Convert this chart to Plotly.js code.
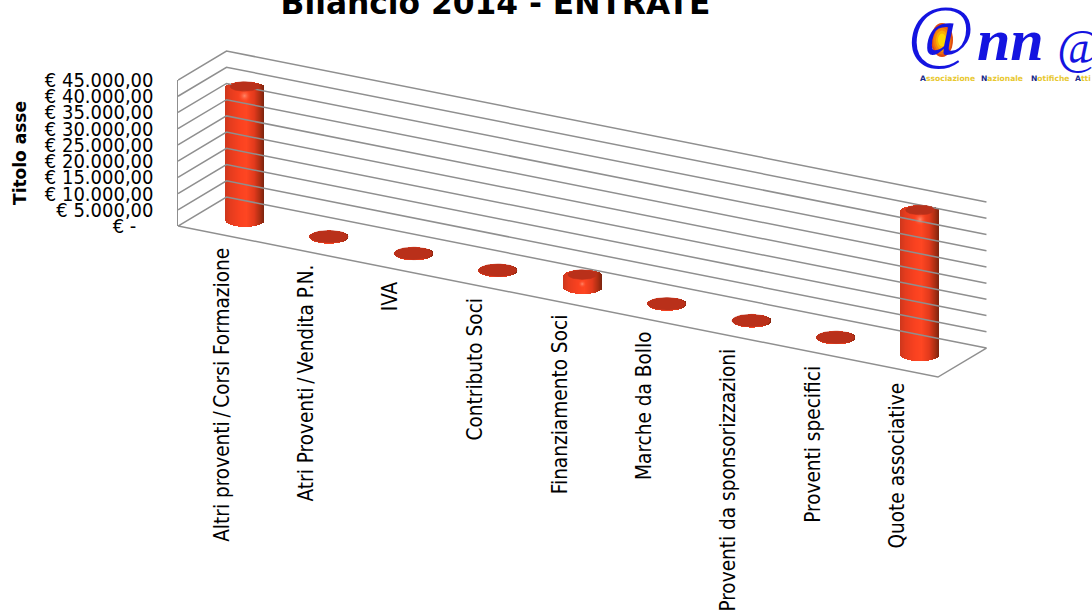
<!DOCTYPE html>
<html>
<head>
<meta charset="utf-8">
<script src="https://cdn.plot.ly/plotly-3.0.1.min.js"></script>
<style>html,body{margin:0;padding:0;background:#fff;overflow:hidden}#c{width:1092px;height:612px}</style>
</head>
<body>
<div id="c"></div>
<script>
// ---- data ----
const categories = ["Altri proventi/Corsi Formazione","Atri Proventi/Vendita P.N.","IVA","Contributo Soci","Finanziamento Soci","Marche da Bollo","Proventi da sponsorizzazioni","Proventi specifici","Quote associative"];
const values = [40700, 0, 0, 0, 3400, 0, 0, 0, 44000];
const tickValues = [0,5000,10000,15000,20000,25000,30000,35000,40000,45000];
const tickLabels = ["€ -\u00a0\u00a0\u00a0","€ 5.000,00","€ 10.000,00","€ 15.000,00","€ 20.000,00","€ 25.000,00","€ 30.000,00","€ 35.000,00","€ 40.000,00","€ 45.000,00"];
const chartTitle = "Bilancio 2014 - ENTRATE";
const axisTitle = "Titolo asse";

// ---- oblique projection of the Excel 3-D box, in pixels ----
const pxLeft=178, pxRight=1000, pxTop=30, pxBottom=400, pxZero=226;
const pxPerCat=84.44, slopePerCat=16.78, depthX=48.5, depthY=29, pxPerEuro=0.003244;
const eur = 1/pxPerEuro, catPx = 1/pxPerCat;
const X = (c,d)=> c + d*depthX*catPx;
const Y = (c,d,v)=> v - (slopePerCat*c - depthY*d)*eur;
const dBar=0.5, rx=19.5, ry=7, capRy=6.2;

// cylinder shading stops across the bar (-1 left edge, 1 right edge)
const shade=[[-1,[205,54,28]],[-0.7,[230,60,30]],[-0.2,[250,66,32]],[0.1,[254,70,34]],[0.5,[226,58,28]],[0.8,[170,46,18]],[1,[122,36,14]]];
function shadeAt(t){for(let k=1;k<shade.length;k++){if(t<=shade[k][0]){const a=shade[k-1],b=shade[k],f=(t-a[0])/(b[0]-a[0]);
  return 'rgb('+a[1].map((u,j)=>Math.round(u+(b[1][j]-u)*f)).join(',')+')';}}return 'rgb(122,36,14)';}

// bars as vertical strips through the library's bar trace
const bx=[],by=[],bb=[],bw=[],bc=[];
categories.forEach((_,i)=>{
  const c=i+0.5, cx=X(c,dBar), y0=Y(c,dBar,0);
  for(let s=-19;s<=19;s++){
    const t=s/19.5, e=Math.sqrt(1-t*t);
    const lo=y0-ry*e*eur, hi=y0+values[i]+capRy*e*eur;
    bx.push(cx+(s<19?s+0.5:s)*catPx); bb.push(lo); by.push(hi-lo); bw.push((s<19?2:1)*catPx); bc.push(shadeAt(t));
  }
});
// caps: full discs for empty categories, inset tops for real columns
const capX=[],capY=[];
categories.forEach((_,i)=>{
  const c=i+0.5,cx=X(c,dBar),v=values[i];
  const crx=v>0?14.5:rx-0.5, cry=v>0?4.8:capRy, cy=Y(c,dBar,v)+(v>0?1.4*eur:0);
  for(let a=0;a<=48;a++){const th=a/48*2*Math.PI;
    capX.push(cx+crx*Math.cos(th)*catPx); capY.push(cy+cry*Math.sin(th)*eur);}
  capX.push(null);capY.push(null);
});
// walls and floor
const gx=[],gy=[];
tickValues.forEach(v=>{ if(v===0) return;
  gx.push(X(0,0),X(0,1),X(9,1),null); gy.push(Y(0,0,v),Y(0,1,v),Y(9,1,v),null);
});
gx.push(X(0,0),X(0,1),X(9,1),X(9,0),X(0,0)); gy.push(Y(0,0,0),Y(0,1,0),Y(9,1,0),Y(9,0,0),Y(0,0,0));
// highlights under the caps
const hx=[],hy=[],hs=[];
categories.forEach((_,i)=>{ if(values[i]>0){const c=i+0.5; hx.push(X(c,dBar)); hy.push(Y(c,dBar,values[i])-8*eur); hs.push(values[i]>10000?13:8);} });

const traces=[
 {type:'scatter',mode:'none',x:[X(0,0),X(0,0)],y:[0,45000],xaxis:'x',yaxis:'y',hoverinfo:'skip'},
 {type:'scatter',mode:'lines',x:gx,y:gy,xaxis:'x',yaxis:'y2',line:{color:'#8f8f8f',width:1.5},hoverinfo:'skip'},
 {type:'bar',x:bx,y:by,base:bb,width:bw,xaxis:'x',yaxis:'y2',marker:{color:bc,line:{width:0}},hoverinfo:'skip'},
 {type:'scatter',mode:'lines',x:capX,y:capY,fill:'toself',fillcolor:'#b9301a',line:{color:'#b9301a',width:0.5},xaxis:'x',yaxis:'y2',hoverinfo:'skip'},
 {type:'scatter',mode:'markers',x:hx,y:hy,xaxis:'x',yaxis:'y2',marker:{size:hs,color:'rgba(254,70,34,0.01)',gradient:{type:'radial',color:'rgba(255,190,165,0.8)'},line:{width:0}},hoverinfo:'skip'}
];

const pw=pxRight-pxLeft, ph=pxBottom-pxTop;
const px2x=p=>(p-pxLeft)/pw, py2y=p=>(pxBottom-p)/ph;
const labelFont={family:'"DejaVu Sans Condensed","DejaVu Sans",sans-serif',size:20.6,color:'#000'};
const annotations=categories.map((name,i)=>({
  text:name.replace('/','\u2009/\u2009'),xref:'x',yref:'y2',x:i+0.5+0.02,y:Y(i+0.5,0,0)-12.5*eur,xanchor:'center',yanchor:'top',textangle:-90,showarrow:false,font:labelFont,borderpad:0
}));
// logo text
const blue='#1414e0';
annotations.push(
 {text:'@',xref:'paper',yref:'paper',x:px2x(941),y:py2y(31),xanchor:'center',yanchor:'middle',showarrow:false,font:{family:'"Liberation Serif",serif',size:72,color:blue}},
 {text:'<b><i>nn</i></b>',xref:'paper',yref:'paper',x:px2x(1011),y:py2y(40),xanchor:'center',yanchor:'middle',showarrow:false,font:{family:'"Liberation Serif",serif',size:60,color:blue}},
 {text:'<i>@</i>',xref:'paper',yref:'paper',x:px2x(1079),y:py2y(47),xanchor:'center',yanchor:'middle',showarrow:false,font:{family:'"Liberation Serif",serif',size:48,color:blue}}
);
const logoWords=[['A','ssociazione',918],['N','azionale',979],['N','otifiche',1029],['A','tti',1073]];
logoWords.forEach(w=>annotations.push({text:'<b><span style="color:#1a2a8c">'+w[0]+'</span><span style="color:#e8c830">'+w[1]+'</span></b>',xref:'paper',yref:'paper',x:px2x(w[2]),y:py2y(78),xanchor:'left',yanchor:'middle',showarrow:false,font:{family:'"DejaVu Sans",sans-serif',size:7.6}}));

const glow=[[11,17,'#dd4a10'],[9.5,14.5,'#ee6a10'],[8,12,'#f68a08'],[6,9.5,'#fbb004'],[4,6.5,'#ffd800']];
const shapes=glow.map(g=>({type:'circle',xref:'paper',yref:'paper',x0:px2x(942-g[0]),x1:px2x(942+g[0]),y0:py2y(40+g[1]),y1:py2y(40-g[1]),fillcolor:g[2],line:{width:0},layer:'above'}));

const layout={
 width:1092,height:612,paper_bgcolor:'#fff',plot_bgcolor:'rgba(0,0,0,0)',showlegend:false,bargap:0,barmode:'overlay',
 margin:{l:pxLeft,r:1092-pxRight,t:pxTop,b:612-pxBottom,pad:0},
 title:{text:'<b>'+chartTitle+'</b>',x:495.5/1092,xanchor:'center',xref:'container',y:0.995,yref:'container',yanchor:'middle',font:{family:'"DejaVu Sans",sans-serif',size:31.3,color:'#000'}},
 xaxis:{visible:false,range:[0,pw*catPx],domain:[0,1],fixedrange:true},
 yaxis:{domain:[py2y(pxZero),py2y(pxZero-45000*pxPerEuro)],range:[0,45000],anchor:'x',tickmode:'array',tickvals:tickValues,ticktext:tickLabels,
   ticks:'outside',ticklen:19,tickcolor:'rgba(0,0,0,0)',showgrid:false,zeroline:false,showline:true,linecolor:'#8f8f8f',linewidth:1.5,
   tickfont:{family:'"DejaVu Sans Condensed","DejaVu Sans",sans-serif',size:20,color:'#000'},
   title:{text:'<b>'+axisTitle+'</b>',standoff:14,font:{family:'"DejaVu Sans",sans-serif',size:17,color:'#000'}},fixedrange:true},
 yaxis2:{visible:false,domain:[0,1],anchor:'x',range:[(pxZero-pxBottom)*eur,(pxZero-pxTop)*eur],fixedrange:true},
 annotations:annotations,shapes:shapes
};
Plotly.newPlot('c',traces,layout,{displayModeBar:false,staticPlot:true});
</script>
</body>
</html>
